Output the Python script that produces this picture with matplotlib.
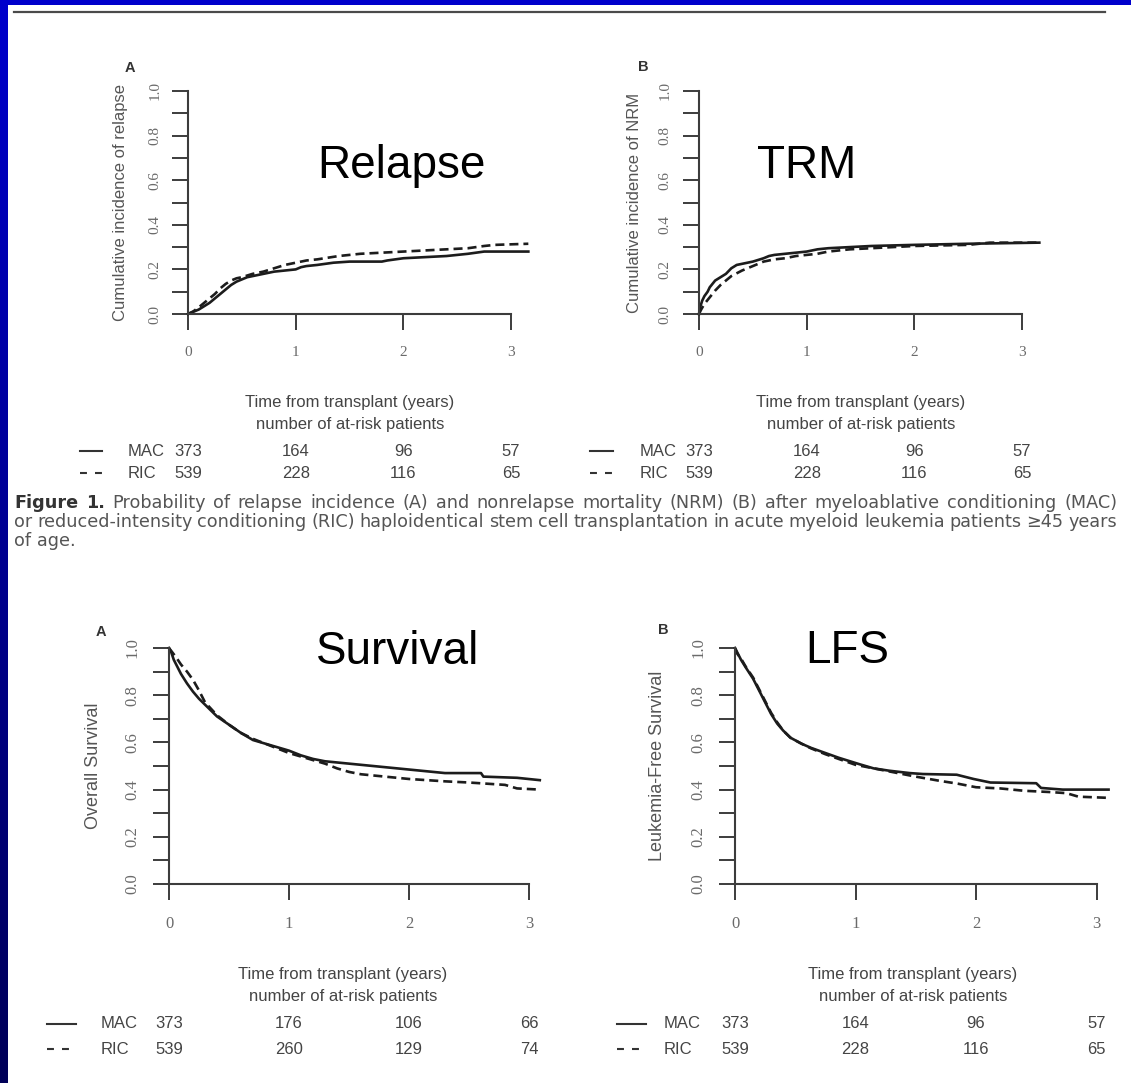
import numpy as np
import matplotlib
matplotlib.use("Agg")
import matplotlib.pyplot as plt
import matplotlib.transforms as mtrans
from matplotlib.lines import Line2D
from matplotlib.patches import Rectangle
from matplotlib.colors import LinearSegmentedColormap

W, H, DPI = 1131, 1083, 100
plt.rcParams['lines.scale_dashes'] = False

# ---------------- data ----------------
relapse_mac_t = [0, 0.05, 0.1, 0.15, 0.2, 0.25, 0.3, 0.35, 0.4, 0.45, 0.5, 0.55, 0.6, 0.7, 0.8, 0.9, 1.0, 1.05, 1.1, 1.2, 1.35, 1.5, 1.8, 1.85, 2.0, 2.2, 2.4, 2.6, 2.75, 3.16]
relapse_mac_y = [0, 0.01, 0.02, 0.035, 0.05, 0.07, 0.09, 0.11, 0.13, 0.145, 0.155, 0.165, 0.17, 0.18, 0.19, 0.195, 0.2, 0.21, 0.215, 0.22, 0.23, 0.235, 0.235, 0.24, 0.25, 0.255, 0.26, 0.27, 0.28, 0.28]
relapse_ric_t = [0, 0.05, 0.1, 0.15, 0.2, 0.25, 0.3, 0.35, 0.4, 0.45, 0.5, 0.6, 0.7, 0.8, 0.9, 1.0, 1.1, 1.2, 1.4, 1.6, 1.8, 2.0, 2.2, 2.4, 2.6, 2.75, 2.85, 3.16]
relapse_ric_y = [0, 0.012, 0.03, 0.05, 0.07, 0.09, 0.115, 0.135, 0.15, 0.16, 0.165, 0.18, 0.19, 0.205, 0.22, 0.23, 0.24, 0.245, 0.26, 0.27, 0.275, 0.28, 0.285, 0.29, 0.295, 0.305, 0.31, 0.315]

nrm_mac_t = [0, 0.01, 0.03, 0.05, 0.08, 0.1, 0.15, 0.2, 0.25, 0.3, 0.35, 0.4, 0.5, 0.6, 0.65, 0.7, 0.8, 0.9, 1.0, 1.1, 1.2, 1.4, 1.6, 2.0, 2.5, 3.16]
nrm_mac_y = [0, 0.03, 0.06, 0.08, 0.10, 0.12, 0.15, 0.165, 0.18, 0.205, 0.22, 0.225, 0.235, 0.25, 0.26, 0.265, 0.27, 0.275, 0.28, 0.29, 0.295, 0.30, 0.305, 0.31, 0.315, 0.32]
nrm_ric_t = [0, 0.02, 0.05, 0.1, 0.15, 0.2, 0.25, 0.3, 0.4, 0.5, 0.6, 0.7, 0.8, 0.9, 1.0, 1.1, 1.2, 1.4, 1.6, 2.0, 2.5, 2.7, 3.16]
nrm_ric_y = [0, 0.02, 0.045, 0.075, 0.105, 0.13, 0.15, 0.17, 0.195, 0.215, 0.235, 0.245, 0.25, 0.26, 0.265, 0.27, 0.28, 0.29, 0.295, 0.305, 0.31, 0.32, 0.32]

os_mac_t = [0, 0.02, 0.04, 0.06, 0.1, 0.15, 0.2, 0.25, 0.3, 0.4, 0.5, 0.6, 0.7, 0.8, 0.9, 1.0, 1.1, 1.2, 1.3, 1.4, 1.6, 1.8, 1.9, 2.1, 2.3, 2.6, 2.62, 2.9, 3.09]
os_mac_y = [1.0, 0.98, 0.95, 0.93, 0.89, 0.85, 0.815, 0.785, 0.76, 0.71, 0.675, 0.64, 0.61, 0.595, 0.58, 0.565, 0.545, 0.53, 0.52, 0.515, 0.505, 0.495, 0.49, 0.48, 0.47, 0.47, 0.455, 0.45, 0.44]
os_ric_t = [0, 0.03, 0.06, 0.1, 0.15, 0.2, 0.25, 0.3, 0.4, 0.5, 0.6, 0.7, 0.8, 0.9, 1.0, 1.1, 1.2, 1.3, 1.4, 1.5, 1.6, 1.8, 2.0, 2.3, 2.5, 2.8, 2.9, 3.09]
os_ric_y = [1.0, 0.98, 0.96, 0.93, 0.9, 0.865, 0.82, 0.77, 0.715, 0.675, 0.64, 0.615, 0.595, 0.575, 0.555, 0.54, 0.525, 0.51, 0.49, 0.475, 0.465, 0.455, 0.445, 0.435, 0.43, 0.42, 0.405, 0.40]

lfs_mac_t = [0, 0.02, 0.05, 0.09, 0.15, 0.2, 0.25, 0.3, 0.35, 0.4, 0.46, 0.55, 0.63, 0.75, 0.86, 1.03, 1.15, 1.28, 1.45, 1.56, 1.84, 1.98, 2.12, 2.5, 2.54, 2.72, 3.1]
lfs_mac_y = [1.0, 0.98, 0.95, 0.917, 0.87, 0.82, 0.77, 0.72, 0.68, 0.65, 0.62, 0.595, 0.577, 0.555, 0.535, 0.508, 0.49, 0.48, 0.47, 0.466, 0.463, 0.445, 0.43, 0.427, 0.407, 0.40, 0.40]
lfs_ric_t = [0, 0.02, 0.05, 0.09, 0.15, 0.2, 0.25, 0.3, 0.35, 0.4, 0.46, 0.55, 0.63, 0.75, 0.86, 1.0, 1.1, 1.2, 1.35, 1.5, 1.7, 1.85, 2.0, 2.2, 2.4, 2.6, 2.75, 2.85, 3.1]
lfs_ric_y = [1.0, 0.975, 0.955, 0.92, 0.875, 0.825, 0.775, 0.725, 0.685, 0.65, 0.62, 0.595, 0.575, 0.55, 0.53, 0.505, 0.495, 0.485, 0.47, 0.455, 0.437, 0.425, 0.41, 0.405, 0.395, 0.39, 0.385, 0.37, 0.365]

groups = ["MAC", "RIC"]
risk_times = [0, 1, 2, 3]
relapse_risk = [[373, 164, 96, 57], [539, 228, 116, 65]]
nrm_risk = [[373, 164, 96, 57], [539, 228, 116, 65]]
os_risk = [[373, 176, 106, 66], [539, 260, 129, 74]]
lfs_risk = [[373, 164, 96, 57], [539, 228, 116, 65]]

xtick_vals = [0, 1, 2, 3]
xtick_labels = ["0", "1", "2", "3"]
ytick_vals = [0.0, 0.1, 0.2, 0.3, 0.4, 0.5, 0.6, 0.7, 0.8, 0.9, 1.0]
ytick_labels = ["0.0", "", "0.2", "", "0.4", "", "0.6", "", "0.8", "", "1.0"]

caption_bold = "Figure 1."
caption_lines = [
    "Probability of relapse incidence (A) and nonrelapse mortality (NRM) (B) after myeloablative conditioning (MAC)",
    "or reduced-intensity conditioning (RIC) haploidentical stem cell transplantation in acute myeloid leukemia patients \u226545 years",
    "of age.",
]

# ---------------- layout (pixels) ----------------
panels = [
    dict(letter="A", big="Relapse", ylabel="Cumulative incidence of relapse",
         curves=((relapse_mac_t, relapse_mac_y), (relapse_ric_t, relapse_ric_y)), risk=relapse_risk,
         x0=188, ppy=107.7, y0=314, y1=91, xmax=3.2, letter_xy=(130, 68), big_xy=(401, 178),
         ylab_x=121, ytl_cx=155, xtl_cy=352, ylab_fs=12, tick_fs=11,
         rows=(403, 425, 451, 473), samp=(-108, -86), grp_dx=-60, title_cx=350),
    dict(letter="B", big="TRM", ylabel="Cumulative incidence of NRM",
         curves=((nrm_mac_t, nrm_mac_y), (nrm_ric_t, nrm_ric_y)), risk=nrm_risk,
         x0=699, ppy=107.7, y0=314, y1=91, xmax=3.2, letter_xy=(643, 67), big_xy=(807, 178),
         ylab_x=635, ytl_cx=665, xtl_cy=352, ylab_fs=12, tick_fs=11,
         rows=(403, 425, 451, 473), samp=(-109, -86), grp_dx=-59, title_cx=861),
    dict(letter="A", big="Survival", ylabel="Overall Survival",
         curves=((os_mac_t, os_mac_y), (os_ric_t, os_ric_y)), risk=os_risk,
         x0=169, ppy=120.0, y0=884, y1=648, xmax=3.12, letter_xy=(101, 632), big_xy=(398, 664),
         ylab_x=94, ytl_cx=132, xtl_cy=924, ylab_fs=13, tick_fs=12,
         rows=(975, 997, 1024, 1049), samp=(-122, -93), grp_dx=-68, title_cx=343),
    dict(letter="B", big="LFS", ylabel="Leukemia-Free Survival",
         curves=((lfs_mac_t, lfs_mac_y), (lfs_ric_t, lfs_ric_y)), risk=lfs_risk,
         x0=735, ppy=120.5, y0=884, y1=648, xmax=3.12, letter_xy=(663, 630), big_xy=(847, 663),
         ylab_x=658, ytl_cx=698, xtl_cy=924, ylab_fs=13, tick_fs=12,
         rows=(975, 997, 1024, 1049), samp=(-118, -89), grp_dx=-71, title_cx=913),
]

SANS = "Liberation Sans"
SERIF = "Liberation Serif"
AXC = "#3c3c3c"
CURVE = "#1c1c1c"


def fx(x):
    return x / W


def fy(y):
    return 1 - y / H


fig = plt.figure(figsize=(W / DPI, H / DPI), dpi=DPI)

# blue slide background + white picture area
bg = fig.add_axes([0, 0, 1, 1], zorder=-10)
grad = np.linspace(0, 1, 256).reshape(-1, 1)
bg.imshow(grad, aspect="auto", extent=[0, 1, 0, 1], origin="upper",
          cmap=LinearSegmentedColormap.from_list("slide", ["#0000cc", "#000058"]))
bg.set_axis_off()
fig.add_artist(Rectangle((fx(8), 0), 1 - fx(8), fy(5), transform=fig.transFigure,
                         facecolor="white", edgecolor="none", zorder=-5))
fig.add_artist(Line2D([fx(14), fx(1105)], [fy(12), fy(12)], transform=fig.transFigure,
                      color="#4a4a4a", lw=1.6, zorder=2))

axes = []
for p in panels:
    ax = fig.add_axes([fx(p["x0"]), fy(p["y0"]), p["xmax"] * p["ppy"] / W, (p["y0"] - p["y1"]) / H])
    ax.set_facecolor("none")
    ax.set_xlim(0, p["xmax"])
    ax.set_ylim(0, 1)
    for s in ("top", "right"):
        ax.spines[s].set_visible(False)
    for s in ("left", "bottom"):
        ax.spines[s].set_color(AXC)
        ax.spines[s].set_linewidth(1.5)
    ax.spines["left"].set_bounds(0, 1)
    ax.spines["bottom"].set_bounds(0, 3)
    ax.set_xticks(xtick_vals)
    ax.set_xticklabels(xtick_labels, family=SERIF, fontsize=p["tick_fs"], color="#6a6a6a")
    ax.set_yticks(ytick_vals)
    ax.set_yticklabels(ytick_labels, family=SERIF, fontsize=p["tick_fs"], color="#6a6a6a",
                       rotation=90, va="center")
    ax.tick_params(direction="out", length=11.5, width=1.4, color=AXC, pad=8)

    (tm, ym), (tr, yr) = p["curves"]
    ax.plot(tm, ym, color=CURVE, lw=1.9, clip_on=False)
    ax.plot(tr, yr, color=CURVE, lw=1.9, clip_on=False, linestyle=(0, (6.5, 3.6)))

    # labels
    fig.text(fx(p["ylab_x"]), fy((p["y0"] + p["y1"]) / 2), p["ylabel"], rotation=90,
             ha="center", va="center", fontsize=p["ylab_fs"], color="#555555", family=SANS)
    fig.text(fx(p["letter_xy"][0]), fy(p["letter_xy"][1]), p["letter"], ha="center", va="center",
             fontsize=10.5, fontweight="bold", color="#333333", family=SANS)
    fig.text(fx(p["big_xy"][0]), fy(p["big_xy"][1]), p["big"], ha="center", va="baseline",
             fontsize=33, color="black", family=SANS)

    # at-risk table
    r_time, r_num, r_mac, r_ric = p["rows"]
    fig.text(fx(p["title_cx"]), fy(r_time), "Time from transplant (years)", ha="center", va="center",
             fontsize=12, color="#444444", family=SANS)
    fig.text(fx(p["title_cx"]), fy(r_num), "number of at-risk patients", ha="center", va="center",
             fontsize=12, color="#444444", family=SANS)
    blend = mtrans.blended_transform_factory(ax.transData, fig.transFigure)
    for gi, (g, ry) in enumerate(zip(groups, (r_mac, r_ric))):
        sx0, sx1 = p["x0"] + p["samp"][0], p["x0"] + p["samp"][1]
        fig.add_artist(Line2D([fx(sx0), fx(sx1)], [fy(ry), fy(ry)], transform=fig.transFigure,
                              color="#333333", lw=1.5,
                              linestyle="-" if gi == 0 else (0, (5.0, 5.8))))
        fig.text(fx(p["x0"] + p["grp_dx"]), fy(ry), g, ha="left", va="center",
                 fontsize=12, color="#444444", family=SANS)
        for tt, n in zip(risk_times, p["risk"][gi]):
            ax.text(tt, fy(ry), str(n), transform=blend, ha="center", va="center",
                    fontsize=12, color="#444444", family=SANS, clip_on=False)
    axes.append(ax)

# calibrate tick label pads so label centres sit where the reference has them
renderer = fig.canvas.get_renderer()
for _ in range(2):
    fig.canvas.draw()
    for ax, p in zip(axes, panels):
        ylabs = [t for t in ax.get_yticklabels() if t.get_text()]
        bb = ylabs[0].get_window_extent(renderer)
        cx = (bb.x0 + bb.x1) / 2
        ypad = ax.yaxis.get_major_ticks()[0].get_pad()
        ax.tick_params(axis="y", pad=ypad + (cx - p["ytl_cx"]) * 72 / DPI)
        bb = ax.get_xticklabels()[0].get_window_extent(renderer)
        cy = (bb.y0 + bb.y1) / 2
        xpad = ax.xaxis.get_major_ticks()[0].get_pad()
        ax.tick_params(axis="x", pad=xpad + (cy - (H - p["xtl_cy"])) * 72 / DPI)

# caption: justified lines between x=14 and x=1117
CAPF = "DejaVu Sans"
cap_y = [503, 522, 541]
CAP_L, CAP_R = 14, 1117


def word_width(word, size, bold=False):
    t = fig.text(0, 0, word, fontsize=size, family=CAPF, fontweight="bold" if bold else "normal")
    w = t.get_window_extent(renderer).width
    t.remove()
    return w


size = 11.0
line_words = [[(w, True) for w in caption_bold.split()] + [(w, False) for w in caption_lines[0].split()],
              [(w, False) for w in caption_lines[1].split()],
              [(w, False) for w in caption_lines[2].split()]]
# choose size so that the longest line has natural-ish spacing
space_w = word_width("a b", size) - word_width("ab", size)
natural = max(sum(word_width(w, size, b) for w, b in ws) + space_w * 0.9 * (len(ws) - 1)
              for ws in line_words[:2])
size *= (CAP_R - CAP_L) / natural

for li, (ws, yy) in enumerate(zip(line_words, cap_y)):
    widths = [word_width(w, size, b) for w, b in ws]
    if li < 2:
        gap = (CAP_R - CAP_L - sum(widths)) / (len(ws) - 1)
    else:
        gap = word_width("a b", size) - word_width("ab", size)
    x = CAP_L
    for (w, b), wd in zip(ws, widths):
        fig.text(fx(x), fy(yy), w, fontsize=size, family=CAPF, va="center",
                 fontweight="bold" if b else "normal", color="#333333" if b else "#555555")
        x += wd + gap

fig.savefig("out.png", dpi=DPI)
